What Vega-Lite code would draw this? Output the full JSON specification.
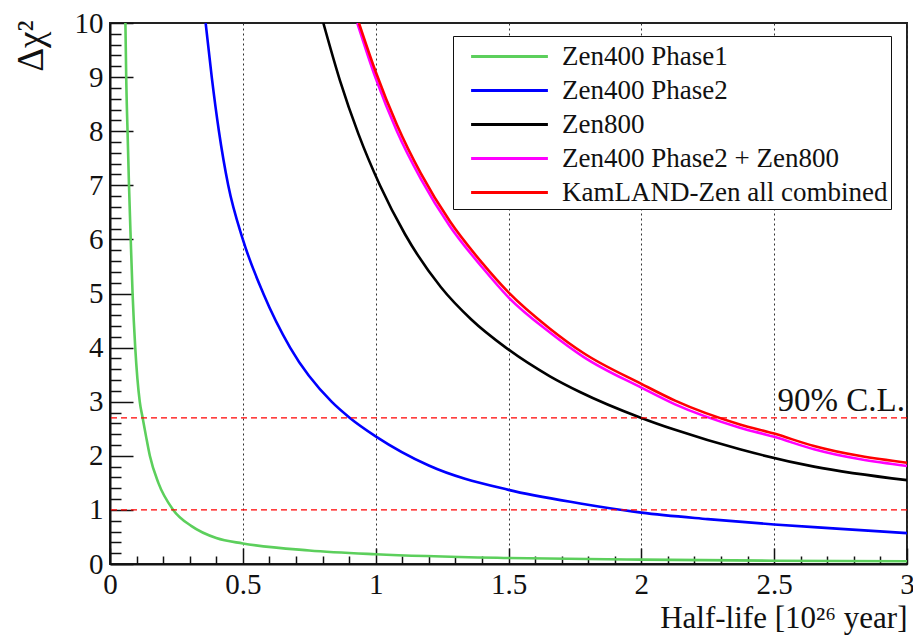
{
  "$schema": "https://vega.github.io/schema/vega-lite/v6.json",
  "width": 797,
  "height": 541,
  "autosize": "none",
  "padding": {"left": 110, "top": 23, "right": 6, "bottom": 74},
  "background": "white",
  "config": {
    "view": {"stroke": "#222", "strokeWidth": 2},
    "font": "Liberation Serif",
    "axis": {"labelFont": "Liberation Serif", "titleFont": "Liberation Serif", "labelColor": "#111", "titleColor": "#111", "titleFontWeight": "normal"},
    "legend": {"labelFont": "Liberation Serif", "titleFont": "Liberation Serif"},
    "style": {"guide-label": {"font": "Liberation Serif"}, "guide-title": {"font": "Liberation Serif"}},
    "text": {"font": "Liberation Serif"}
  },
  "datasets": {
    "curves": [
      {"series": "Zen400 Phase1", "x": 0.058, "y": 10},
      {"series": "Zen400 Phase1", "x": 0.061, "y": 9},
      {"series": "Zen400 Phase1", "x": 0.066, "y": 8},
      {"series": "Zen400 Phase1", "x": 0.0715, "y": 7},
      {"series": "Zen400 Phase1", "x": 0.078, "y": 6},
      {"series": "Zen400 Phase1", "x": 0.085, "y": 5},
      {"series": "Zen400 Phase1", "x": 0.095, "y": 4},
      {"series": "Zen400 Phase1", "x": 0.112, "y": 3},
      {"series": "Zen400 Phase1", "x": 0.123, "y": 2.7},
      {"series": "Zen400 Phase1", "x": 0.136, "y": 2.35},
      {"series": "Zen400 Phase1", "x": 0.150, "y": 2},
      {"series": "Zen400 Phase1", "x": 0.182, "y": 1.5},
      {"series": "Zen400 Phase1", "x": 0.238, "y": 1},
      {"series": "Zen400 Phase1", "x": 0.307, "y": 0.7},
      {"series": "Zen400 Phase1", "x": 0.40, "y": 0.48},
      {"series": "Zen400 Phase1", "x": 0.5, "y": 0.38},
      {"series": "Zen400 Phase1", "x": 0.75, "y": 0.25},
      {"series": "Zen400 Phase1", "x": 1.0, "y": 0.18},
      {"series": "Zen400 Phase1", "x": 1.5, "y": 0.11},
      {"series": "Zen400 Phase1", "x": 2.0, "y": 0.08},
      {"series": "Zen400 Phase1", "x": 2.5, "y": 0.06},
      {"series": "Zen400 Phase1", "x": 3.0, "y": 0.05},
      {"series": "Zen400 Phase2", "x": 0.36, "y": 10},
      {"series": "Zen400 Phase2", "x": 0.383, "y": 9},
      {"series": "Zen400 Phase2", "x": 0.41, "y": 8},
      {"series": "Zen400 Phase2", "x": 0.445, "y": 7},
      {"series": "Zen400 Phase2", "x": 0.50, "y": 6},
      {"series": "Zen400 Phase2", "x": 0.577, "y": 5},
      {"series": "Zen400 Phase2", "x": 0.678, "y": 4},
      {"series": "Zen400 Phase2", "x": 0.834, "y": 3},
      {"series": "Zen400 Phase2", "x": 0.903, "y": 2.7},
      {"series": "Zen400 Phase2", "x": 1.0, "y": 2.36},
      {"series": "Zen400 Phase2", "x": 1.2, "y": 1.82},
      {"series": "Zen400 Phase2", "x": 1.5, "y": 1.37},
      {"series": "Zen400 Phase2", "x": 1.77, "y": 1.12},
      {"series": "Zen400 Phase2", "x": 2.0, "y": 0.95},
      {"series": "Zen400 Phase2", "x": 2.25, "y": 0.83},
      {"series": "Zen400 Phase2", "x": 2.5, "y": 0.73},
      {"series": "Zen400 Phase2", "x": 2.75, "y": 0.65},
      {"series": "Zen400 Phase2", "x": 3.0, "y": 0.57},
      {"series": "Zen800", "x": 0.803, "y": 10},
      {"series": "Zen800", "x": 0.866, "y": 8.93},
      {"series": "Zen800", "x": 0.935, "y": 7.95},
      {"series": "Zen800", "x": 1.016, "y": 7.0},
      {"series": "Zen800", "x": 1.11, "y": 6.1},
      {"series": "Zen800", "x": 1.245, "y": 5.12},
      {"series": "Zen800", "x": 1.36, "y": 4.52},
      {"series": "Zen800", "x": 1.49, "y": 4.0},
      {"series": "Zen800", "x": 1.656, "y": 3.47},
      {"series": "Zen800", "x": 1.769, "y": 3.18},
      {"series": "Zen800", "x": 2.0, "y": 2.7},
      {"series": "Zen800", "x": 2.127, "y": 2.48},
      {"series": "Zen800", "x": 2.371, "y": 2.12},
      {"series": "Zen800", "x": 2.65, "y": 1.8},
      {"series": "Zen800", "x": 3.0, "y": 1.55},
      {"series": "Zen400 Phase2 + Zen800", "x": 0.931, "y": 10},
      {"series": "Zen400 Phase2 + Zen800", "x": 1.0, "y": 8.98},
      {"series": "Zen400 Phase2 + Zen800", "x": 1.08, "y": 8.0},
      {"series": "Zen400 Phase2 + Zen800", "x": 1.17, "y": 7.12},
      {"series": "Zen400 Phase2 + Zen800", "x": 1.28, "y": 6.24},
      {"series": "Zen400 Phase2 + Zen800", "x": 1.40, "y": 5.49},
      {"series": "Zen400 Phase2 + Zen800", "x": 1.5, "y": 4.93},
      {"series": "Zen400 Phase2 + Zen800", "x": 1.656, "y": 4.28},
      {"series": "Zen400 Phase2 + Zen800", "x": 1.782, "y": 3.83},
      {"series": "Zen400 Phase2 + Zen800", "x": 2.0, "y": 3.26},
      {"series": "Zen400 Phase2 + Zen800", "x": 2.127, "y": 2.95},
      {"series": "Zen400 Phase2 + Zen800", "x": 2.371, "y": 2.52},
      {"series": "Zen400 Phase2 + Zen800", "x": 2.5, "y": 2.35},
      {"series": "Zen400 Phase2 + Zen800", "x": 2.65, "y": 2.12},
      {"series": "Zen400 Phase2 + Zen800", "x": 3.0, "y": 1.81},
      {"series": "KamLAND-Zen all combined", "x": 0.937, "y": 10},
      {"series": "KamLAND-Zen all combined", "x": 1.0, "y": 9.1},
      {"series": "KamLAND-Zen all combined", "x": 1.08, "y": 8.12},
      {"series": "KamLAND-Zen all combined", "x": 1.17, "y": 7.22},
      {"series": "KamLAND-Zen all combined", "x": 1.28, "y": 6.33},
      {"series": "KamLAND-Zen all combined", "x": 1.40, "y": 5.57},
      {"series": "KamLAND-Zen all combined", "x": 1.5, "y": 5.02},
      {"series": "KamLAND-Zen all combined", "x": 1.656, "y": 4.35},
      {"series": "KamLAND-Zen all combined", "x": 1.782, "y": 3.9},
      {"series": "KamLAND-Zen all combined", "x": 2.0, "y": 3.33},
      {"series": "KamLAND-Zen all combined", "x": 2.127, "y": 3.02},
      {"series": "KamLAND-Zen all combined", "x": 2.371, "y": 2.58},
      {"series": "KamLAND-Zen all combined", "x": 2.5, "y": 2.41},
      {"series": "KamLAND-Zen all combined", "x": 2.65, "y": 2.18},
      {"series": "KamLAND-Zen all combined", "x": 3.0, "y": 1.87}
    ],
    "levels": [
      {"y": 1, "x": 3, "label": ""},
      {"y": 2.7, "x": 3, "label": "90% C.L."}
    ]
  },
  "layer": [
    {
      "data": {"name": "curves"},
      "mark": {"type": "line", "strokeWidth": 2.6, "interpolate": "monotone", "clip": true},
      "encoding": {
        "x": {"field": "x", "type": "quantitative",
          "scale": {"domain": [0, 3], "nice": false, "zero": false},
          "axis": {"orient": "bottom", "values": [0, 0.5, 1, 1.5, 2, 2.5, 3], "labelExpr": "'' + datum.value",
            "grid": true, "gridDash": [2, 3], "gridColor": "#333", "gridWidth": 1,
            "domainColor": "#111", "domainWidth": 2, "tickColor": "#111", "tickWidth": 1.5, "tickSize": -16,
            "labelFontSize": 29, "labelPadding": 22, "labelFlush": false,
            "title": "Half-life [10²⁶ year]", "titleFontSize": 31, "titleAnchor": "end", "titleAlign": "right",
            "titleX": 797, "titleY": 63, "titleBaseline": "alphabetic"}},
        "y": {"field": "y", "type": "quantitative",
          "scale": {"domain": [0, 10], "nice": false},
          "axis": {"orient": "left", "values": [0, 1, 2, 3, 4, 5, 6, 7, 8, 9, 10], "grid": false,
            "domainColor": "#111", "domainWidth": 2, "tickColor": "#111", "tickWidth": 1.5, "tickSize": -23,
            "labelFontSize": 29, "labelPadding": 30, "labelFlush": false,
            "title": "Δχ²", "titleFontSize": 37, "titleAngle": -90, "titleAlign": "right",
            "titleX": -68, "titleY": -3, "titleBaseline": "alphabetic"}},
        "color": {"field": "series", "type": "nominal",
          "scale": {"domain": ["Zen400 Phase1", "Zen400 Phase2", "Zen800", "Zen400 Phase2 + Zen800", "KamLAND-Zen all combined"],
            "range": ["#5ccf5c", "#0000ff", "#000000", "#ff00ff", "#ff0000"]},
          "sort": ["Zen400 Phase1", "Zen400 Phase2", "Zen800", "Zen400 Phase2 + Zen800", "KamLAND-Zen all combined"],
          "legend": {"orient": "none", "legendX": 343, "legendY": 13, "title": null,
            "symbolType": "M-2.4,0H2.4", "symbolSize": 1024, "symbolStrokeWidth": 3, "symbolOffset": 36,
            "labelFont": "Liberation Serif", "labelFontSize": 27, "labelColor": "#111", "labelLimit": 400,
            "rowPadding": 3, "padding": 3, "strokeColor": "#111", "fillColor": "white",
            "labelOffset": 35}}
      }
    },
    {
      "data": {"name": "levels"},
      "mark": {"type": "rule", "color": "#ff0000", "strokeWidth": 1.2, "strokeDash": [6, 4]},
      "encoding": {
        "y": {"field": "y", "type": "quantitative", "axis": null}
      }
    },
    {
      "data": {"name": "levels"},
      "mark": {"type": "text", "align": "right", "baseline": "alphabetic", "dx": -2, "dy": -7, "fontSize": 33, "font": "Liberation Serif", "color": "#111"},
      "encoding": {
        "x": {"field": "x", "type": "quantitative",
          "axis": {"orient": "bottom", "values": [0.1, 0.2, 0.3, 0.4, 0.6, 0.7, 0.8, 0.9, 1.1, 1.2, 1.3, 1.4, 1.6, 1.7, 1.8, 1.9, 2.1, 2.2, 2.3, 2.4, 2.6, 2.7, 2.8, 2.9],
            "labels": false, "domain": false, "grid": false, "tickSize": -8, "tickColor": "#111", "tickWidth": 1.5, "title": null}},
        "y": {"field": "y", "type": "quantitative",
          "axis": {"orient": "left", "values": [0.2, 0.4, 0.6, 0.8, 1.2, 1.4, 1.6, 1.8, 2.2, 2.4, 2.6, 2.8, 3.2, 3.4, 3.6, 3.8, 4.2, 4.4, 4.6, 4.8, 5.2, 5.4, 5.6, 5.8, 6.2, 6.4, 6.6, 6.8, 7.2, 7.4, 7.6, 7.8, 8.2, 8.4, 8.6, 8.8, 9.2, 9.4, 9.6, 9.8],
            "labels": false, "domain": false, "grid": false, "tickSize": -11, "tickColor": "#111", "tickWidth": 1.5, "title": null}},
        "text": {"field": "label"}
      }
    }
  ],
  "resolve": {"axis": {"x": "independent", "y": "independent"}}
}
